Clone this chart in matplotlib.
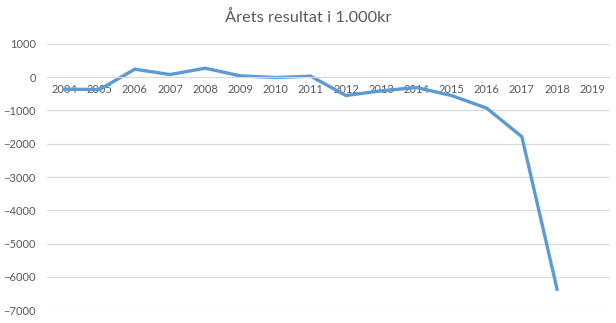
import matplotlib
matplotlib.use("Agg")
import matplotlib.pyplot as plt
import numpy as np

# årstall og resultat (1000 kr)
years = ["2004", "2005", "2006", "2007", "2008", "2009", "2010", "2011",
         "2012", "2013", "2014", "2015", "2016", "2017", "2018", "2019"]
result = [-360, -370, 240, 80, 270, 40, -10, 30,
          -550, -410, -310, -550, -930, -1790, -6370, np.nan]

plt.rcParams['font.family'] = ['Lato', 'DejaVu Sans']
grey = '#595959'

fig = plt.figure(figsize=(6.16, 3.23), dpi=100)
ax = fig.add_axes([0.076, 0.040, 0.914, 0.824])

x = np.arange(len(years))
ax.plot(x, result, color='#5B9BD5', linewidth=2.4, solid_joinstyle='miter')

ax.set_xlim(-0.5, len(years) - 0.5)
ax.set_ylim(-7000, 1000)
ax.set_yticks(range(-7000, 1001, 1000))
ax.yaxis.grid(True, color='#d9d9d9', linewidth=0.8)
ax.set_axisbelow(True)

# kategori-aksen ligger på null-linja
ax.spines['bottom'].set_position(('data', 0))
ax.spines['bottom'].set_color('#d9d9d9')
for s in ['top', 'right', 'left']:
    ax.spines[s].set_visible(False)
ax.set_xticks(x)
ax.set_xticklabels(years)
ax.tick_params(axis='x', length=0, pad=5, labelsize=8, labelcolor=grey)
ax.tick_params(axis='y', length=0, pad=8, labelsize=8, labelcolor=grey)

fig.text(0.5, 0.945, "Årets resultat i 1.000kr", ha='center', va='center',
         fontsize=11.8, color=grey)

fig.savefig("out.png", dpi=100)
